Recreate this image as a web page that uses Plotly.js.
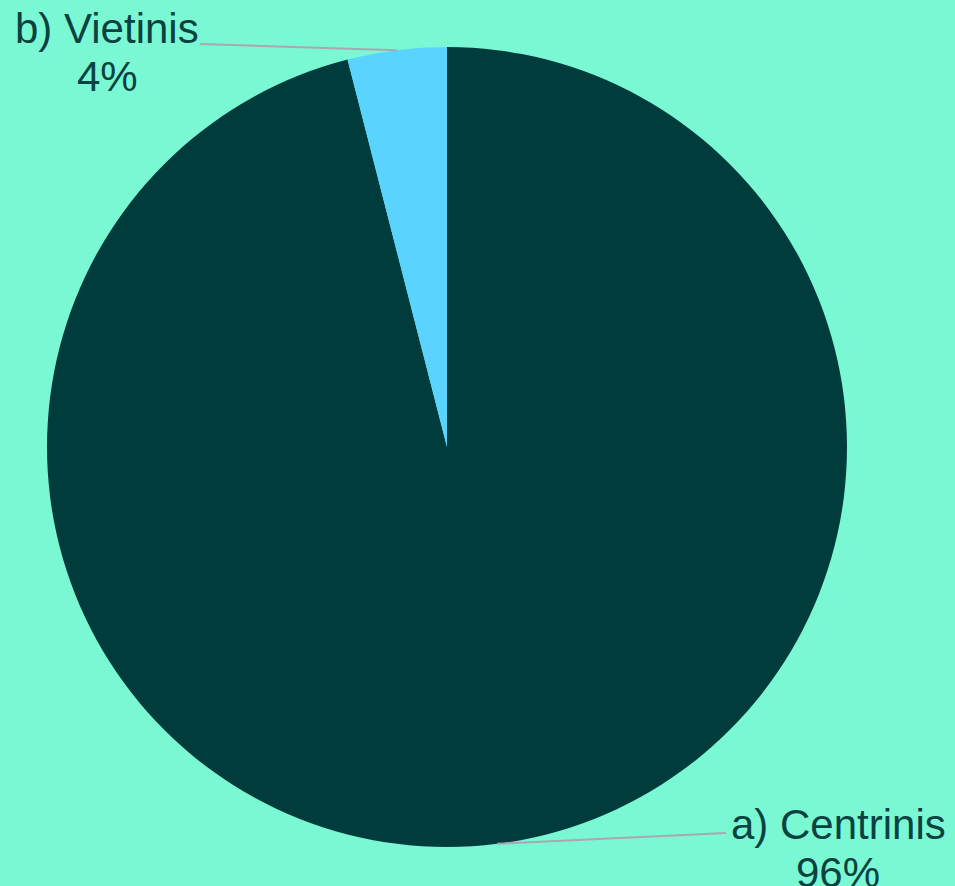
<!DOCTYPE html>
<html>
<head>
<meta charset="utf-8">
<script src="https://cdn.plot.ly/plotly-3.0.1.min.js"></script>
<style>html,body{margin:0;padding:0;background:#7af8d4;}#chart{width:955px;height:886px;}</style>
</head>
<body>
<div id="chart"></div>
<script>
const categories = ["a) Centrinis", "b) Vietinis"];
const values = [96, 4];
const pctLabels = ["96%", "4%"];
const sliceColors = ["#003c3c", "#5ad3ff"];

const W = 955, H = 886;
const M = {l: 47, r: 108, t: 47, b: 39};
const PW = W - M.l - M.r, PH = H - M.t - M.b;
const cx = M.l + PW / 2, cy = M.t + PH / 2, R = Math.min(PW, PH) / 2;
const px2x = p => (p - M.l) / PW;
const py2y = p => (H - M.b - p) / PH;

// label text anchor positions (pixels) - layout only
const labelPos = [
  {lineEndX: 726, lineEndY: 833, cx: 838, y1: 824, y2: 872},
  {lineEndX: 200, lineEndY: 44, cx: 107, y1: 28, y2: 76}
];

const total = values.reduce((a, b) => a + b, 0);
const shapes = [], annotations = [];
let cum = 0;
values.forEach((v, i) => {
  const mid = (cum + v / 2) / total * 2 * Math.PI; // clockwise from top
  cum += v;
  const sx = cx + R * Math.sin(mid), sy = cy - R * Math.cos(mid);
  const lp = labelPos[i];
  shapes.push({type: "line", xref: "paper", yref: "paper",
    x0: px2x(sx), y0: py2y(sy), x1: px2x(lp.lineEndX), y1: py2y(lp.lineEndY),
    line: {color: "#aca6b0", width: 2}});
  annotations.push({xref: "paper", yref: "paper", x: px2x(lp.cx), y: py2y(lp.y1),
    xanchor: "center", yanchor: "middle", showarrow: false, text: categories[i],
    font: {family: "Liberation Sans, Arial, sans-serif", size: 42, color: "#0a4240"}});
  annotations.push({xref: "paper", yref: "paper", x: px2x(lp.cx), y: py2y(lp.y2),
    xanchor: "center", yanchor: "middle", showarrow: false, text: pctLabels[i],
    font: {family: "Liberation Sans, Arial, sans-serif", size: 42, color: "#0a4240"}});
});

const data = [{
  type: "pie", labels: categories, values: values, sort: false,
  direction: "clockwise", rotation: 0,
  marker: {colors: sliceColors, line: {width: 0}},
  textinfo: "none", hoverinfo: "label+percent", showlegend: false
}];

const layout = {
  width: W, height: H, margin: M,
  paper_bgcolor: "#7af8d4", plot_bgcolor: "#7af8d4",
  showlegend: false, shapes: shapes, annotations: annotations
};

Plotly.newPlot("chart", data, layout, {displayModeBar: false, staticPlot: true});
</script>
</body>
</html>
